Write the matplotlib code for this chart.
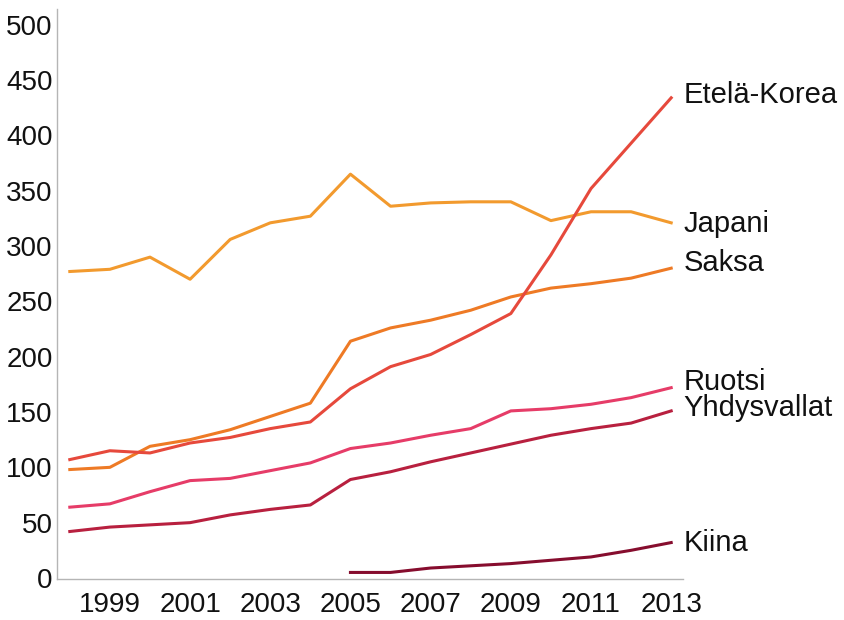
import matplotlib.pyplot as plt
import numpy as np

plt.rcParams['font.family'] = ['Liberation Sans', 'DejaVu Sans']

years = np.arange(1998, 2014)
kiina_years = np.arange(2005, 2014)

japani = [277, 279, 290, 270, 306, 321, 327, 365, 336, 339, 340, 340, 323, 331, 331, 321]
saksa = [98, 100, 119, 125, 134, 146, 158, 214, 226, 233, 242, 254, 262, 266, 271, 280]
etela_korea = [107, 115, 113, 122, 127, 135, 141, 171, 191, 202, 220, 239, 292, 352, 393, 434]
ruotsi = [64, 67, 78, 88, 90, 97, 104, 117, 122, 129, 135, 151, 153, 157, 163, 172]
yhdysvallat = [42, 46, 48, 50, 57, 62, 66, 89, 96, 105, 113, 121, 129, 135, 140, 151]
kiina = [5, 5, 9, 11, 13, 16, 19, 25, 32]

series = [
    ("Japani", years, japani, "#f29a2e", -1),
    ("Saksa", years, saksa, "#ee7a25", 4),
    ("Etelä-Korea", years, etela_korea, "#e6493c", 2),
    ("Ruotsi", years, ruotsi, "#e63c68", 4),
    ("Yhdysvallat", years, yhdysvallat, "#b8203f", 2),
    ("Kiina", kiina_years, kiina, "#860d2e", 0),
]

fig = plt.figure(figsize=(8.44, 6.2), dpi=100)
ax = fig.add_axes([0.0675, 0.066, 0.742, 0.919])

for name, x, y, col, dy in series:
    ax.plot(x, y, color=col, lw=2.2, solid_joinstyle='round')
    ax.annotate(name, xy=(x[-1], y[-1]), xytext=(9, dy), textcoords='offset points',
                va='center', ha='left', fontsize=21, color='#111111',
                annotation_clip=False)

ax.set_xlim(1997.68, 2013.3)
ax.set_ylim(-1, 514)
ax.set_xticks(np.arange(1999, 2014, 2))
ax.set_yticks(np.arange(0, 501, 50))
ax.tick_params(length=0, labelsize=20, colors='#111111')
ax.tick_params(axis='x', pad=9)
ax.tick_params(axis='y', pad=3)

for s in ['top', 'right']:
    ax.spines[s].set_visible(False)
for s in ['left', 'bottom']:
    ax.spines[s].set_color('#b5b5b5')
    ax.spines[s].set_linewidth(1)

fig.savefig("out.png", dpi=100)
